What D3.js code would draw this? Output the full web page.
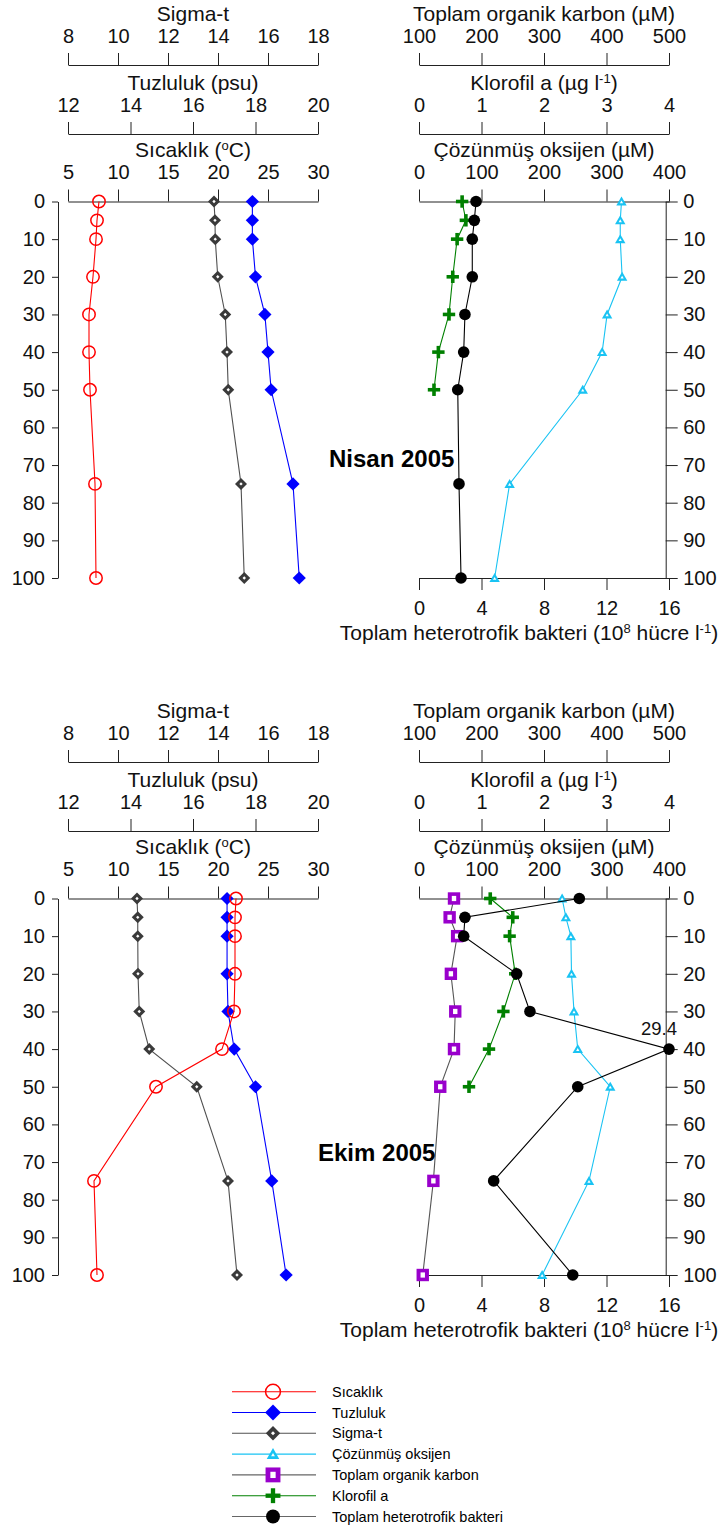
<!DOCTYPE html>
<html>
<head>
<meta charset="utf-8">
<script src="https://cdn.jsdelivr.net/npm/d3@7"></script>
<style>
  html, body { margin: 0; padding: 0; background: #fff; }
  svg { display: block; font-family: "Liberation Sans", Arial, sans-serif; }
  .axis text { font-size: 20px; fill: #111; }
  .axis path, .axis line { stroke: #222; stroke-width: 1; }
  .title { font-size: 21px; fill: #111; }
  .month { font-size: 24px; font-weight: bold; fill: #000; }
  .legend text { font-size: 14.5px; fill: #000; }
</style>
</head>
<body>
<svg id="chart" width="726" height="1528"></svg>
<script>
/* Depth profiles — Nisan / Ekim 2005 */

const depths = [0, 5, 10, 20, 30, 40, 50, 75, 100];
const chlDepths = [0, 5, 10, 20, 30, 40, 50];
const depthTicks = [0, 10, 20, 30, 40, 50, 60, 70, 80, 90, 100];

// Nisan 2005
const nisanSicaklik = [8.1, 7.9, 7.8, 7.5, 7.1, 7.1, 7.2, 7.7, 7.8];
const nisanTuzluluk = [17.9, 17.9, 17.9, 18.0, 18.3, 18.4, 18.5, 19.2, 19.4];
const nisanSigma = [13.84, 13.88, 13.89, 13.99, 14.29, 14.36, 14.41, 14.92, 15.05];
const nisanOksijen = [324, 322, 322, 325, 301, 293, 262, 145, 121];
const nisanKlorofil = [0.69, 0.75, 0.61, 0.54, 0.48, 0.31, 0.24];
const nisanBakteri = [3.65, 3.54, 3.41, 3.41, 2.94, 2.86, 2.48, 2.56, 2.69];

// Ekim 2005
const ekimSicaklik = [21.8, 21.7, 21.7, 21.7, 21.6, 20.4, 13.8, 7.6, 7.9];
const ekimTuzluluk = [17.09, 17.09, 17.09, 17.09, 17.12, 17.32, 18.0, 18.52, 18.98];
const ekimSigma = [10.76, 10.79, 10.79, 10.8, 10.85, 11.25, 13.15, 14.4, 14.76];
const ekimOksijen = [229, 235, 243, 244, 248, 254, 306, 272, 197];
const ekimTOC = [156, 149, 161, 151, 158, 156, 134, 123, 106];
const ekimKlorofil = [1.14, 1.5, 1.45, 1.54, 1.35, 1.12, 0.8];
const ekimBakteri = [10.26, 2.94, 2.86, 6.25, 7.1, 29.4, 10.16, 4.78, 9.84];

// axis ticks
const sigmaTicks = [8, 10, 12, 14, 16, 18];
const tuzTicks = [12, 14, 16, 18, 20];
const sicTicks = [5, 10, 15, 20, 25, 30];
const tocTicks = [100, 200, 300, 400, 500];
const chlTicks = [0, 1, 2, 3, 4];
const oksTicks = [0, 100, 200, 300, 400];
const bakTicks = [0, 4, 8, 12, 16];

const legendItems = [
  { key: "sic", label: "Sıcaklık" },
  { key: "tuz", label: "Tuzluluk" },
  { key: "sig", label: "Sigma-t" },
  { key: "oks", label: "Çözünmüş oksijen" },
  { key: "toc", label: "Toplam organik karbon" },
  { key: "chl", label: "Klorofil a" },
  { key: "bak", label: "Toplam heterotrofik bakteri" }
];

const STYLE = {
  sic: { line: "#ff0000", marker: "circleOpen", color: "#ff0000" },
  tuz: { line: "#0000ff", marker: "diamond", color: "#0000ff" },
  sig: { line: "#505050", marker: "diamondHollow", color: "#3a3a3a" },
  oks: { line: "#19c3f3", marker: "triangle", color: "#19c3f3" },
  toc: { line: "#555555", marker: "square", color: "#9900cc" },
  chl: { line: "#008000", marker: "plus", color: "#008000" },
  bak: { line: "#000000", marker: "circleFill", color: "#000000" }
};

const svg = d3.select("#chart");

const L = [68, 318];   // left panel x range
const R = [419, 669];  // right panel x range

function drawMarker(g, type, color, x, y, s) {
  const m = g.append("g").attr("transform", `translate(${x},${y})`);
  if (type === "circleOpen") {
    m.append("circle").attr("r", 6.2 * s).attr("fill", "none").attr("stroke", color).attr("stroke-width", 1.5);
  } else if (type === "circleFill") {
    m.append("circle").attr("r", 5.8 * s).attr("fill", color);
  } else if (type === "diamond") {
    const h = 6.6 * s;
    m.append("path").attr("d", `M0,${-h}L${h},0L0,${h}L${-h},0Z`).attr("fill", color);
  } else if (type === "diamondHollow") {
    const h = 6 * s, i = 1.7 * s;
    m.append("path").attr("d", `M0,${-h}L${h},0L0,${h}L${-h},0Z`).attr("fill", color);
    m.append("path").attr("d", `M0,${-i}L${i},0L0,${i}L${-i},0Z`).attr("fill", "#fff");
  } else if (type === "triangle") {
    const w = 5.2 * s, t = 5 * s, b = 4 * s;
    m.append("path").attr("d", `M0,${-t}L${w},${b}L${-w},${b}Z`).attr("fill", color);
    m.append("path").attr("d", `M0,${-1 * s}L${1.6 * s},${1.8 * s}L${-1.6 * s},${1.8 * s}Z`).attr("fill", "#fff");
  } else if (type === "square") {
    const h = 6.2 * s;
    m.append("rect").attr("x", -h).attr("y", -h).attr("width", 2 * h).attr("height", 2 * h).attr("fill", color);
    m.append("rect").attr("x", -2.2 * s).attr("y", -2.6 * s).attr("width", 4.4 * s).attr("height", 5.2 * s).attr("fill", "#fff");
  } else if (type === "plus") {
    const a = 6.2 * s, t = 1.8 * s;
    m.append("rect").attr("x", -a).attr("y", -t).attr("width", 2 * a).attr("height", 2 * t).attr("fill", color);
    m.append("rect").attr("x", -t).attr("y", -a).attr("width", 2 * t).attr("height", 2 * a).attr("fill", color);
  }
}

function drawSeries(g, key, values, ds, x, y) {
  const st = STYLE[key];
  const pts = values.map((v, i) => [x(v), y(ds[i])]);
  g.append("path")
    .attr("d", d3.line()(pts))
    .attr("fill", "none")
    .attr("stroke", st.line)
    .attr("stroke-width", 1.1);
  pts.forEach(([px, py]) => drawMarker(g, st.marker, st.color, px, py, 1));
}

// title with optional superscript parts: [[text, sup?], ...]
function richText(g, parts, x, y, cls, anchor) {
  const t = g.append("text").attr("class", cls).attr("x", x).attr("y", y).attr("text-anchor", anchor || "middle");
  parts.forEach(([txt, sup]) => {
    const s = t.append("tspan").text(txt);
    if (sup) s.attr("baseline-shift", "super").attr("font-size", "0.62em");
  });
  return t;
}

function topAxis(g, scale, ticks, base, title) {
  g.append("g").attr("class", "axis")
    .attr("transform", `translate(0,${base})`)
    .call(d3.axisTop(scale).tickValues(ticks).tickFormat(d3.format("d"))
      .tickSize(12).tickSizeOuter(0).tickPadding(10.5));
  const r = scale.range();
  richText(g, title, (r[0] + r[1]) / 2, base - 44.5, "title");
}

function panel(off, data) {
  const g = svg.append("g").attr("transform", `translate(0,${off})`);
  const y = d3.scaleLinear([0, 100], [201.5, 578]);

  // left panel scales
  const xSig = d3.scaleLinear([8, 18], L);
  const xTuz = d3.scaleLinear([12, 20], L);
  const xSic = d3.scaleLinear([5, 30], L);
  topAxis(g, xSig, sigmaTicks, 65, [["Sigma-t"]]);
  topAxis(g, xTuz, tuzTicks, 134, [["Tuzluluk (psu)"]]);
  topAxis(g, xSic, sicTicks, 201.5, [["Sıcaklık ("], ["o", true], ["C)"]]);

  g.append("g").attr("class", "axis")
    .attr("transform", "translate(58,0)")
    .call(d3.axisLeft(y).tickValues(depthTicks).tickSize(6).tickSizeOuter(0).tickPadding(7));

  // right panel scales
  const xToc = d3.scaleLinear([100, 500], R);
  const xChl = d3.scaleLinear([0, 4], R);
  const xOks = d3.scaleLinear([0, 400], R);
  const xBak = d3.scaleLinear([0, 16], R).clamp(true);
  topAxis(g, xToc, tocTicks, 65, [["Toplam organik karbon (µM)"]]);
  topAxis(g, xChl, chlTicks, 134, [["Klorofil a (µg l"], ["-1", true], [")"]]);
  topAxis(g, xOks, oksTicks, 201.5, [["Çözünmüş oksijen (µM)"]]);

  g.append("g").attr("class", "axis")
    .attr("transform", "translate(0,578)")
    .call(d3.axisBottom(xBak).tickValues(bakTicks).tickSize(12).tickSizeOuter(0).tickPadding(11));
  richText(g, [["Toplam heterotrofik bakteri (10"], ["8", true], [" hücre l"], ["-1", true], [")"]], 529, 640, "title");

  g.append("g").attr("class", "axis")
    .attr("transform", "translate(665.7,0)")
    .call(d3.axisRight(y).tickValues(depthTicks).tickSize(12).tickSizeOuter(0).tickPadding(5.5));

  // data
  drawSeries(g, "sig", data.sig, depths, xSig, y);
  drawSeries(g, "tuz", data.tuz, depths, xTuz, y);
  drawSeries(g, "sic", data.sic, depths, xSic, y);
  drawSeries(g, "oks", data.oks, depths, xOks, y);
  if (data.toc) drawSeries(g, "toc", data.toc, depths, xToc, y);
  drawSeries(g, "chl", data.chl, chlDepths, xChl, y);
  drawSeries(g, "bak", data.bak, depths, xBak, y);

  // values beyond the bacteria axis get their number written
  data.bak.forEach((v, i) => {
    if (v > xBak.domain()[1]) {
      g.append("text").attr("x", xBak(v) - 10).attr("y", y(depths[i]) - 14.5)
        .attr("text-anchor", "middle").attr("font-size", 18.5).attr("fill", "#111").text(v);
    }
  });

  g.append("text").attr("class", "month").attr("x", data.labelX).attr("y", data.labelY).text(data.label);
}

panel(0, {
  sic: nisanSicaklik, tuz: nisanTuzluluk, sig: nisanSigma,
  oks: nisanOksijen, chl: nisanKlorofil, bak: nisanBakteri,
  label: "Nisan 2005", labelX: 329, labelY: 466.5
});

panel(697, {
  sic: ekimSicaklik, tuz: ekimTuzluluk, sig: ekimSigma,
  oks: ekimOksijen, toc: ekimTOC, chl: ekimKlorofil, bak: ekimBakteri,
  label: "Ekim 2005", labelX: 318, labelY: 464
});

// legend
const leg = svg.append("g").attr("class", "legend");
legendItems.forEach((d, i) => {
  const st = STYLE[d.key];
  const ly = 1391.7 + i * 20.8;
  const lineColor = (d.key === "toc" || d.key === "bak") ? "#666" : st.line;
  leg.append("line").attr("x1", 232).attr("x2", 316).attr("y1", ly).attr("y2", ly)
    .attr("stroke", lineColor).attr("stroke-width", 1.1);
  drawMarker(leg, st.marker, st.color, 273, ly, 1.2);
  leg.append("text").attr("x", 332).attr("y", ly).attr("dy", "0.35em").text(d.label);
});
</script>
</body>
</html>
